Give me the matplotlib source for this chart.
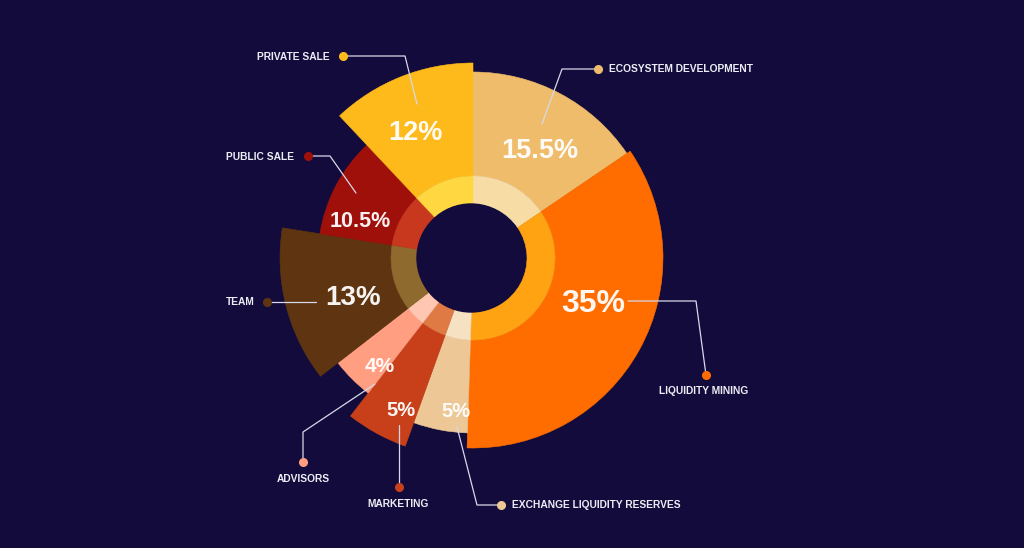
import matplotlib.pyplot as plt
import numpy as np
from matplotlib.patches import Circle, Wedge

# Token allocation, clockwise from 12 o'clock
categories = [
    "ECOSYSTEM DEVELOPMENT",
    "LIQUIDITY MINING",
    "EXCHANGE LIQUIDITY RESERVES",
    "MARKETING",
    "ADVISORS",
    "TEAM",
    "PUBLIC SALE",
    "PRIVATE SALE",
]
shares = [15.5, 35, 5, 5, 4, 13, 10.5, 12]
pct_labels = ["15.5%", "35%", "5%", "5%", "4%", "13%", "10.5%", "12%"]
outer_radius = [186, 190, 175, 200, 171, 193, 155, 195]  # rose radius per slice

outer_colors = ["#EFBC6B", "#FF6D00", "#EDC896", "#C8401A",
                "#FF9E80", "#5E3510", "#A0100A", "#FDBA1A"]
inner_colors = ["#F8DCA6", "#FFA312", "#F6E1C2", "#E07A45",
                "#FFC6B2", "#8F6A2E", "#C8381E", "#FFD740"]

BG = "#120B3B"
LINE = "#D8D8EA"
TEXT = "#ECECF4"
HOLE_R = 54
RING_R = 82
CX, CY = 473, 258  # pie centre in pixel coordinates


def px(x, y):
    """Pixel coordinates (origin top-left) to data coordinates around the centre."""
    return x - CX, CY - y


# label placement: (radius, angle offset from slice middle, font size)
pct_style = [(126, 4, 19.5), (129, -8, 23), (154, -4.5, 14.5), (169, -3.6, 14.5),
             (143, -4.5, 15), (126, -4, 20), (118, -10, 15.5), (138, -3, 19.5)]

# callout leader lines (pixel coords), last point carries the dot
callouts = [
    ([(542, 124), (562, 69), (598, 69)], (609, 69), "left"),
    ([(628, 301), (696, 301), (706, 375)], (704, 391), "center"),
    ([(457, 427), (477, 505), (501, 505)], (512, 505), "left"),
    ([(399, 425), (399, 487)], (398, 504), "center"),
    ([(375, 384), (303, 432), (303, 462)], (303, 479), "center"),
    ([(316, 302), (267, 302)], (255, 302), "right"),
    ([(356, 193), (330, 156), (308, 156)], (294, 157), "right"),
    ([(417, 104), (405, 56), (343, 56)], (330, 57), "right"),
]

plt.rcParams["font.family"] = ["Liberation Sans", "DejaVu Sans"]

fig = plt.figure(figsize=(10.24, 5.48), dpi=100, facecolor=BG)
ax = fig.add_axes([0, 0, 1, 1])
ax.set_facecolor(BG)
ax.set_xlim(-CX, 1024 - CX)
ax.set_ylim(CY - 548, CY)
ax.set_aspect("equal")
ax.axis("off")

start = 0.0
for i, share in enumerate(shares):
    end = start + share * 3.6
    t1, t2 = 90 - end, 90 - start
    r = outer_radius[i]
    ax.add_patch(Wedge((0, 0), r, t1, t2, width=r - RING_R,
                       facecolor=outer_colors[i], edgecolor=outer_colors[i], lw=0.4))
    ax.add_patch(Wedge((0, 0), RING_R, t1, t2, width=RING_R - HOLE_R,
                       facecolor=inner_colors[i], edgecolor=inner_colors[i], lw=0.4))

    lr, off, fs = pct_style[i]
    mid = np.deg2rad((start + end) / 2 + off)
    ax.text(lr * np.sin(mid), lr * np.cos(mid), pct_labels[i], color="white",
            fontsize=fs, fontweight="bold", ha="center", va="center", alpha=0.95)
    start = end

ax.add_patch(Circle((-2, 0), HOLE_R, facecolor=BG, edgecolor=BG))

for (pts, tpos, ha), name, col in zip(callouts, categories, outer_colors):
    xy = np.array([px(*p) for p in pts])
    ax.plot(xy[:, 0], xy[:, 1], color=LINE, lw=0.9, solid_capstyle="round")
    ax.plot(xy[-1, 0], xy[-1, 1], "o", color=col, markersize=5.5, mec=col)
    tx, ty = px(*tpos)
    ax.text(tx, ty, name, color=TEXT, fontsize=7.4, fontweight="bold",
            ha=ha, va="center")

fig.savefig("out.png", dpi=100, facecolor=BG)
